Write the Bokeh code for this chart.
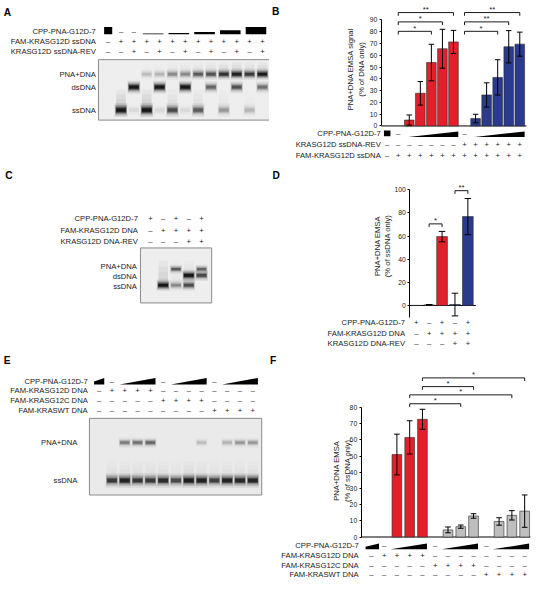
import math
from bokeh.plotting import figure
from bokeh.models import Range1d, LinearAxis, FixedTicker, LabelSet, ColumnDataSource
from bokeh.layouts import column, row
from bokeh.embed import file_html
from bokeh.resources import INLINE
from bokeh.core.properties import value

S = 0.97
FONT = "Liberation Sans"
INK = "#1a1a1a"
RED = "#E2202B"
BLUE = "#2A3A8C"
GREY = "#BEBEBE"
BAND = "#000000"

# ---------------- data ----------------
# A (gel, 13 lanes)
A_row_titles = ["CPP-PNA-G12D-7", "FAM-KRASG12D ssDNA", "KRASG12D ssDNA-REV"]
A_fam = ["–", "+", "+", "+", "+", "+", "+", "+", "+", "+", "+", "+", "+"]
A_rev = ["–", "–", "+", "–", "+", "–", "+", "–", "+", "–", "+", "–", "+"]
A_dose_pairs = [(4, 5), (6, 7), (8, 9), (10, 11), (12, 13)]
A_dose_rel = [0.1, 0.18, 0.32, 0.55, 1.0]
A_band_names = ["PNA+DNA", "dsDNA", "ssDNA"]
A_pna_band = [0, 0, 0, 0.12, 0.15, 0.3, 0.3, 0.5, 0.55, 0.75, 0.9, 0.7, 0.95]
A_ds_band = [0, 0, 1.0, 0, 1.0, 0, 1.0, 0, 0.45, 0, 0.55, 0, 0.4]
A_ss_band = [0, 1.0, 0.05, 1.0, 0.05, 0.6, 0.05, 0.5, 0, 0.25, 0, 0.15, 0]

# B (bar chart, 13 columns)
B_row_titles = ["CPP-PNA-G12D-7", "KRASG12D ssDNA-REV", "FAM-KRASG12D ssDNA"]
B_rev = ["–", "–", "–", "–", "–", "–", "–", "+", "+", "+", "+", "+", "+"]
B_fam = ["–", "+", "+", "+", "+", "+", "+", "+", "+", "+", "+", "+", "+"]
B_red_cols = [3, 4, 5, 6, 7]
B_red = [5.0, 27.7, 53.8, 65.5, 71.3]
B_red_sd = [4.3, 10.0, 15.5, 16.5, 9.8]
B_blue_cols = [9, 10, 11, 12, 13]
B_blue = [6.3, 26.3, 41.2, 67.2, 69.4]
B_blue_sd = [3.6, 10.3, 15.0, 13.7, 10.2]
B_ticks = [0, 10, 20, 30, 40, 50, 60, 70, 80, 90]
B_brackets = [(2, 7, "**"), (2, 6, "*"), (2, 5, "*"), (8, 13, "**"), (8, 12, "**"), (8, 11, "*")]
B_bracket_y = [96.2, 88.3, 80.3, 96.2, 88.3, 80.3]

# C (gel, 5 lanes)
C_row_titles = ["CPP-PNA-G12D-7", "FAM-KRASG12D DNA", "KRASG12D DNA-REV"]
C_pna = ["+", "–", "+", "–", "+"]
C_fam = ["–", "+", "+", "+", "+"]
C_rev = ["–", "–", "–", "+", "+"]
C_band_names = ["PNA+DNA", "dsDNA", "ssDNA"]
C_pna_band = [0, 0, 0.5, 0, 0.45]
C_ds_band = [0, 0, 0, 1.0, 0.6]
C_ss_band = [0, 1.0, 0.3, 0.6, 0]

# D (bar chart, 5 columns)
D_cols = [1, 2, 3, 4, 5]
D_vals = [0.0, 0.5, 59.5, 0.8, 76.8]
D_sd = [0.0, 0.3, 4.5, 9.8, 15.6]
D_ticks = [0, 20, 40, 60, 80, 100]
D_brackets = [(2, 3, "*"), (4, 5, "**")]
D_bracket_y = [70.5, 99.2]

# E (gel, 13 lanes)
E_row_titles = ["CPP-PNA-G12D-7", "FAM-KRASG12D DNA", "FAM-KRASG12C DNA", "FAM-KRASWT DNA"]
E_g12d = ["–", "+", "+", "+", "+", "–", "–", "–", "–", "–", "–", "–", "–"]
E_g12c = ["–", "–", "–", "–", "–", "+", "+", "+", "+", "–", "–", "–", "–"]
E_wt = ["–", "–", "–", "–", "–", "–", "–", "–", "–", "+", "+", "+", "+"]
E_none_cols = [2, 6, 10]
E_wedges = [(3, 5), (7, 9), (11, 13)]
E_band_names = ["PNA+DNA", "ssDNA"]
E_pna_band = [0, 0, 0.35, 0.4, 0.45, 0, 0, 0, 0.12, 0, 0.15, 0.25, 0.25]
E_ss_band = [0, 0.7, 0.9, 0.7, 0.7, 0.8, 0.6, 0.95, 0.9, 0.65, 0.9, 0.85, 0.85]

# F (bar chart, 13 columns)
F_red_cols = [3, 4, 5]
F_red = [51.0, 61.6, 72.8]
F_red_sd = [12.6, 10.3, 6.2]
F_grey_cols = [7, 8, 9, 11, 12, 13]
F_grey = [4.4, 6.4, 13.0, 9.6, 13.4, 16.0]
F_grey_sd = [1.8, 1.0, 1.4, 2.3, 2.9, 10.0]
F_ticks = [0, 10, 20, 30, 40, 50, 60, 70, 80]
F_brackets = [(5, 13, "*"), (5, 9, "*"), (4, 12, "*"), (4, 8, "*")]
F_bracket_y = [98.4, 93.0, 87.9, 82.4]


def fs(px):
    return f"{px * S:.2f}px"


class Panel:
    def __init__(self, X0, Y0, Wr, Hr, axis_x=None, col1=0.0, sp=1.0, zero=0.0, ppu=1.0):
        self.gel = axis_x is None
        self.axis_x = axis_x
        self.col1, self.sp, self.zero, self.ppu = col1, sp, zero, ppu
        self.w, self.h = round(Wr * S), round(Hr * S)
        xl, xr = X0, X0 + self.w / S
        yt, yb = Y0, Y0 + self.h / S
        self.p = figure(width=self.w, height=self.h,
                        x_range=Range1d(self.fx(xl), self.fx(xr)),
                        y_range=Range1d(self.fy(yb), self.fy(yt)),
                        x_axis_type=None, y_axis_type=None, tools="",
                        toolbar_location=None, output_backend="svg",
                        min_border_left=0, min_border_right=0,
                        min_border_top=0, min_border_bottom=0,
                        background_fill_color="white", border_fill_color="white")
        self.p.outline_line_color = None

    def fx(self, rx):
        return rx if self.gel else 1 + (rx - self.col1) / self.sp

    def fy(self, ry):
        return -ry if self.gel else (self.zero - ry) / self.ppu

    def cx(self, i):
        return self.col1 + (i - 1) * self.sp if self.gel else float(i)

    @property
    def cw(self):
        return self.sp if self.gel else 1.0

    def dy(self, px):
        return px if self.gel else px / self.ppu


def labels(P, xs, ys, texts, size=7.9, align="center", baseline="middle",
           style="normal", color=INK, angle=0.0):
    src = ColumnDataSource(dict(x=list(xs), y=list(ys), t=list(texts)))
    P.p.add_layout(LabelSet(x="x", y="y", text="t", source=src, angle=value(angle),
                            text_align=value(align), text_baseline=value(baseline),
                            text_font=value(FONT), text_font_size=value(fs(size)),
                            text_font_style=value(style), text_color=value(color)))


def letter(P, rx, ry, t):
    labels(P, [P.fx(rx)], [P.fy(ry)], [t], size=10.5, align="left", style="bold", color="black")


def row_titles(P, rx, rys, titles):
    labels(P, [P.fx(rx)] * len(titles), [P.fy(y) for y in rys], titles, align="right")


def symbols(P, cols, ry, syms):
    labels(P, [P.cx(c) for c in cols], [P.fy(ry)] * len(cols), syms)


def wedge(P, c0, c1, ybot, h, left=0.0, pad0=0.42, pad1=0.42):
    x0 = P.cx(c0) - pad0 * P.cw
    x1 = P.cx(c1) + pad1 * P.cw
    P.p.patch([x0, x1, x1, x0],
              [P.fy(ybot), P.fy(ybot), P.fy(ybot - h), P.fy(ybot - h * left)],
              fill_color="black", line_color=None)


def square(P, c, ybot, h, wfrac=0.6):
    P.p.rect(x=[P.cx(c)], y=[P.fy(ybot - h / 2)], width=wfrac * P.cw, height=P.dy(h),
             fill_color="black", line_color=None)


def y_axis(P, ticks, bounds, lab1, lab2, x1, x2, yc):
    ax = LinearAxis(ticker=FixedTicker(ticks=ticks), bounds=bounds,
                    fixed_location=P.fx(P.axis_x),
                    axis_line_color="black", axis_line_width=1,
                    major_tick_line_color="black", major_tick_out=2, major_tick_in=0,
                    minor_tick_line_color=None, major_label_standoff=2,
                    major_label_text_font=FONT, major_label_text_font_size=fs(7.0),
                    major_label_text_color=INK)
    P.p.add_layout(ax, "left")
    labels(P, [P.fx(x1), P.fx(x2)], [P.fy(yc)] * 2, [lab1, lab2], size=7.9,
           angle=math.pi / 2)


def bars(P, cols, vals, sds, color, width, cap):
    P.p.vbar(x=cols, top=vals, bottom=0, width=width, fill_color=color,
             line_color="#2a2a2a", line_width=0.6)
    keep = [i for i, s in enumerate(sds) if s > 0]
    c = [cols[i] for i in keep]
    lo = [vals[i] - sds[i] for i in keep]
    hi = [vals[i] + sds[i] for i in keep]
    P.p.segment(x0=c, y0=lo, x1=c, y1=hi, line_color="black", line_width=1)
    for ends in (lo, hi):
        P.p.segment(x0=[v - cap for v in c], y0=ends, x1=[v + cap for v in c], y1=ends,
                    line_color="black", line_width=1)


def baseline(P, xend):
    P.p.segment(x0=[P.fx(P.axis_x)], y0=[0], x1=[xend], y1=[0], line_color="black",
                line_width=1)


def brackets(P, pairs, ys, tick_px=3.3, star_px=3.0):
    xs = [[a, a, b, b] for a, b, _ in pairs]
    yy = [[y - P.dy(tick_px), y, y, y - P.dy(tick_px)] for y in ys]
    P.p.multi_line(xs, yy, line_color="black", line_width=0.9)
    labels(P, [(a + b) / 2 for a, b, _ in pairs], [y + P.dy(star_px) for y in ys],
           [s for _, _, s in pairs], size=8)


LAYERS = [(1.15, 3.0, 0.10), (1.06, 2.2, 0.18), (0.99, 1.6, 0.28), (0.93, 1.1, 0.45),
          (0.86, 0.7, 0.65)]


def gel_box(P, x0, x1, y0, y1, fill):
    P.p.quad(left=[x0], right=[x1], top=[P.fy(y0)], bottom=[P.fy(y1)],
             fill_color=fill, line_color="#8a8a8a", line_width=1)


def bands(P, inten, ry, w, h):
    xs = [P.cx(i + 1) for i in range(len(inten))]
    for ws, hs, a in LAYERS:
        P.p.rect(x=xs, y=[P.fy(ry)] * len(xs), width=w * ws, height=h * hs,
                 fill_color=BAND, fill_alpha=[a * v for v in inten], line_color=None)


def smear(P, inten, ry_top, ry_bot, w, a=0.08):
    xs = [P.cx(i + 1) for i in range(len(inten))]
    steps = 4
    for k in range(steps):
        t0 = ry_top + (ry_bot - ry_top) * k / steps
        P.p.quad(left=[x - w / 2 for x in xs], right=[x + w / 2 for x in xs],
                 top=[P.fy(t0)] * len(xs), bottom=[P.fy(ry_bot)] * len(xs),
                 fill_color=BAND, fill_alpha=[a / steps * v for v in inten], line_color=None)


# ---------------- A ----------------
A = Panel(0, 0, 277, 170, col1=111, sp=13.25)
letter(A, 3.3, 12.3, "A")
row_titles(A, 98.3, [31.7, 42.7, 52.7], A_row_titles)
square(A, 1, 34.7, 7.3, 0.63)
symbols(A, [2, 3], 31.7, ["–", "–"])
for (a, b), rel in zip(A_dose_pairs, A_dose_rel):
    h = 7.3 * rel
    A.p.quad(left=[A.cx(a) - 0.3 * A.cw], right=[A.cx(b) + 0.3 * A.cw],
             top=[A.fy(34.7 - h)], bottom=[A.fy(34.7)], fill_color="black", line_color=None)
symbols(A, range(1, 14), 42.7, A_fam)
symbols(A, range(1, 14), 52.7, A_rev)
gel_box(A, 101, 278, 61, 123.3, "#EEEEEE")
smear(A, A_ss_band, 92, 111, 10, 0.14)
smear(A, A_pna_band, 64, 75, 10, 0.14)
bands(A, A_pna_band, 76.0, 11, 3.8)
bands(A, A_ds_band, 89.3, 11.5, 4.3)
bands(A, A_ss_band, 113.0, 11.5, 4.8)
row_titles(A, 98.3, [76.7, 90.0, 113.0], A_band_names)

# ---------------- B ----------------
B = Panel(277, 0, 273, 170, axis_x=392.3, col1=398.33, sp=11.39, zero=129.33, ppu=1.215)
letter(B, 279.5, 11.7, "B")
y_axis(B, B_ticks, (0, 90), "PNA+DNA EMSA signal", "(% of DNA only)", 361, 371.7, 70.8)
baseline(B, 13.6)
bars(B, B_red_cols, B_red, B_red_sd, RED, 0.87, 0.25)
bars(B, B_blue_cols, B_blue, B_blue_sd, BLUE, 0.87, 0.25)
brackets(B, B_brackets, B_bracket_y)
row_titles(B, 391.7, [137, 148.3, 160], B_row_titles)
square(B, 1, 140, 6, 0.59)
symbols(B, [2, 8], 137, ["–", "–"])
wedge(B, 3, 7, 140.7, 5.7, pad0=0.1, pad1=0.44)
wedge(B, 9, 13, 140.7, 5.7, pad0=0.1, pad1=0.44)
symbols(B, range(1, 14), 148.3, B_rev)
symbols(B, range(1, 14), 160, B_fam)

# ---------------- C ----------------
C = Panel(0, 170, 277, 190, col1=154.5, sp=13.2)
letter(C, 5, 180, "C")
row_titles(C, 141.7, [224.3, 236.7, 248.5], C_row_titles)
symbols(C, range(1, 6), 224.3, C_pna)
symbols(C, range(1, 6), 236.7, C_fam)
symbols(C, range(1, 6), 248.5, C_rev)
gel_box(C, 144.3, 217.7, 255, 311.7, "#EEEEEE")
smear(C, C_ss_band, 268, 292, 10, 0.12)
bands(C, C_pna_band, 276.8, 11, 3.2)
bands(C, C_ds_band, 283.3, 11.5, 3.8)
bands(C, C_ss_band, 293.5, 11.5, 3.8)
row_titles(C, 140.7, [274, 284.3, 294.3], C_band_names)

# ---------------- D ----------------
D = Panel(277, 170, 273, 190, axis_x=421.7, col1=428.3, sp=13.3, zero=314.3, ppu=1.193)
letter(D, 280, 180, "D")
y_axis(D, D_ticks, (-10.4, 100), "PNA+DNA EMSA", "(% of ssDNA only)", 388.3, 399, 253)
baseline(D, 5.62)
D_colors = ["#444444", RED, RED, BLUE, BLUE]
for c, v, s, col in zip(D_cols, D_vals, D_sd, D_colors):
    bars(D, [c], [v], [s], col, 0.83, 0.25)
brackets(D, D_brackets, D_bracket_y)
row_titles(D, 416.7, [332.3, 343.3, 353.3], C_row_titles)
symbols(D, D_cols, 332.3, C_pna)
symbols(D, D_cols, 343.3, C_fam)
symbols(D, D_cols, 353.3, C_rev)

# ---------------- E ----------------
E = Panel(0, 360, 277, 240, col1=101.7, sp=13.2)
letter(E, 3.3, 371.3, "E")
row_titles(E, 90, [392.7, 402.7, 412.7, 422.7], E_row_titles)
wedge(E, 1, 1, 396, 6.7, left=0.45, pad0=0.4, pad1=0.4)
symbols(E, E_none_cols, 392.7, ["–"] * 3)
for a, b in E_wedges:
    wedge(E, a, b, 396, 6.7, pad0=0.4, pad1=0.4)
symbols(E, range(1, 14), 402.7, E_g12d)
symbols(E, range(1, 14), 412.7, E_g12c)
symbols(E, range(1, 14), 422.7, E_wt)
gel_box(E, 91.7, 269.3, 431, 510, "#EAEAEA")
smear(E, E_ss_band, 475, 492, 11, 0.06)
bands(E, E_pna_band, 456, 11, 3.5)
bands(E, E_ss_band, 495, 11.5, 5.0)
row_titles(E, 79.3, [456, 495], E_band_names)

# ---------------- F ----------------
F = Panel(277, 360, 273, 240, axis_x=371.5, col1=382, sp=13.17, zero=553.3, ppu=1.667)
letter(F, 277.5, 371.3, "F")
y_axis(F, F_ticks, (0, 80), "PNA+DNA EMSA", "(% of ssDNA only)", 346.5, 357, 485)
baseline(F, 13.45)
bars(F, F_red_cols, F_red, F_red_sd, RED, 0.76, 0.22)
bars(F, F_grey_cols, F_grey, F_grey_sd, GREY, 0.76, 0.22)
brackets(F, F_brackets, F_bracket_y)
row_titles(F, 369, [562.5, 572.3, 582.3, 592.3], E_row_titles)
wedge(F, 1, 1, 566, 6, left=0.45, pad0=0.45, pad1=0.6)
symbols(F, E_none_cols, 562.5, ["–"] * 3)
for a, b in E_wedges:
    wedge(F, a, b, 566, 6, pad0=0.5, pad1=0.35)
symbols(F, range(1, 14), 572.3, E_g12d)
symbols(F, range(1, 14), 582.3, E_g12c)
symbols(F, range(1, 14), 592.3, E_wt)

layout = column(row(A.p, B.p), row(C.p, D.p), row(E.p, F.p))
open("out.html", "w").write(file_html(layout, INLINE))
